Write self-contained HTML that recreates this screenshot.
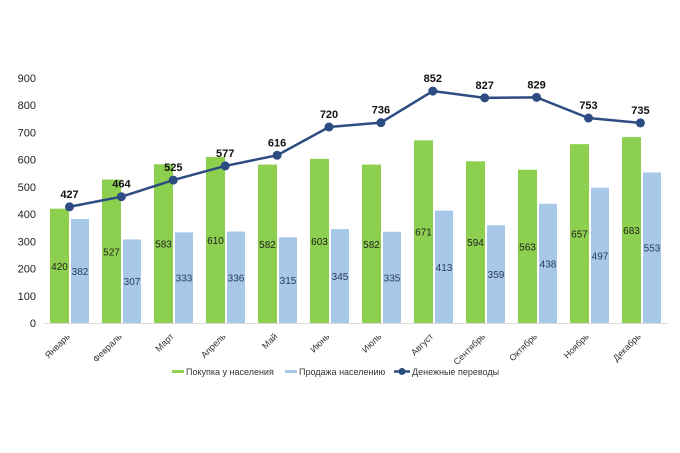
<!DOCTYPE html><html><head><meta charset="utf-8"><style>body{margin:0;background:#fff}svg{display:block;font-family:"Liberation Sans",sans-serif}</style></head><body>
<svg width="680" height="453" viewBox="0 0 680 453" xmlns="http://www.w3.org/2000/svg">
<g id="c"></g>
<script>
var g=document.getElementById('c'),ns='http://www.w3.org/2000/svg';
function el(t,a,txt){var e=document.createElementNS(ns,t);for(var k in a)e.setAttribute(k,a[k]);if(txt!=null)e.textContent=txt;g.appendChild(e);return e;}
var Y=function(v){return 323-v*245/900;};
for(var v=0;v<=900;v+=100)el('text',{x:36,y:Y(v)+4,'font-size':11,fill:'#222','text-anchor':'end'},v);
el('line',{x1:45,y1:323.5,x2:668,y2:323.5,stroke:'#d9d9d9'});
var m=['Январь','Февраль','Март','Апрель','Май','Июнь','Июль','Август','Сентябрь','Октябрь','Ноябрь','Декабрь'];
var a=[420,527,583,610,582,603,582,671,594,563,657,683],b=[382,307,333,336,315,345,335,413,359,438,497,553],c=[427,464,525,577,616,720,736,852,827,829,753,735];
var pts=[];
for(var i=0;i<12;i++){var gx=50+52*i,bx=71+52*i;
el('rect',{x:gx,y:Y(a[i]),width:19,height:323-Y(a[i]),fill:'#8dcf4f'});
el('rect',{x:bx,y:Y(b[i]),width:18,height:323-Y(b[i]),fill:'#a7c8e9'});
el('text',{x:gx+9.5,y:(Y(a[i])+323)/2+4,'font-size':10,fill:'#222','text-anchor':'middle'},a[i]);
el('text',{x:bx+9,y:(Y(b[i])+323)/2+4,'font-size':10,fill:'#2a3a5a','text-anchor':'middle'},b[i]);
var cx=69.5+51.9*i;pts.push(cx+','+Y(c[i]));
el('text',{x:cx+1,y:337,'font-size':9,fill:'#333','text-anchor':'end',transform:'rotate(-45 '+(cx+1)+' 337)'},m[i]);}
el('polyline',{points:pts.join(' '),fill:'none',stroke:'#2d4c82','stroke-width':2.5});
for(var i=0;i<12;i++){var cx=69.5+51.9*i;el('circle',{cx:cx,cy:Y(c[i]),r:4.5,fill:'#2d4c82'});
el('text',{x:cx,y:Y(c[i])-9,'font-size':11,'font-weight':'bold',fill:'#111','text-anchor':'middle'},c[i]);}
el('rect',{x:172,y:370,width:12,height:3,fill:'#8dcf4f'});
el('text',{x:186,y:375,'font-size':9,fill:'#333'},'Покупка у населения');
el('rect',{x:285,y:370,width:12,height:3,fill:'#a7c8e9'});
el('text',{x:299,y:375,'font-size':9,fill:'#333'},'Продажа населению');
el('line',{x1:394,y1:371.5,x2:410,y2:371.5,stroke:'#2d4c82','stroke-width':2.5});
el('circle',{cx:402,cy:371.5,r:3.5,fill:'#2d4c82'});
el('text',{x:412,y:375,'font-size':9,fill:'#333'},'Денежные переводы');
</script>
</svg></body></html>
